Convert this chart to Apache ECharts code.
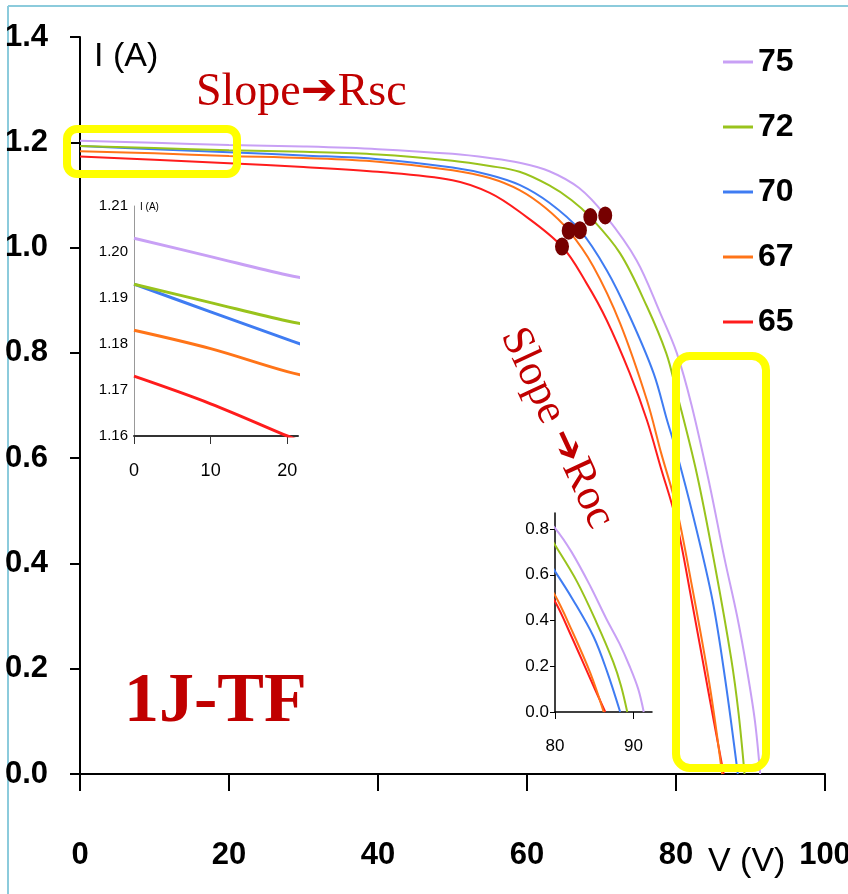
<!DOCTYPE html>
<html>
<head>
<meta charset="utf-8">
<script src="https://cdn.jsdelivr.net/npm/echarts@6/dist/echarts.min.js"></script>
<style>
  html, body { margin: 0; padding: 0; background: #fff; }
  #container { width: 848px; height: 894px; }
</style>
</head>
<body>
<div id="container"></div>
<script>
let chart = echarts.init(document.getElementById('container'));

// temperatures shown in the legend
var names = ['75', '72', '70', '67', '65'];
var colors = ['#c8a0f5', '#99c31c', '#3f7cf2', '#ff7418', '#ff1c1c'];

// I-V curves, voltage (V) and current (A)
var v75 = [0, 10, 20, 30, 40, 50, 55, 59, 63, 67, 70.5, 74.7, 77.9, 80.1, 82.1, 84.5, 86.5, 88.2, 89.5, 90.6, 91.3];
var i75 = [1.203, 1.199, 1.195, 1.192, 1.187, 1.178, 1.170, 1.161, 1.145, 1.113, 1.061, 0.976, 0.875, 0.800, 0.700, 0.550, 0.410, 0.300, 0.200, 0.100, 0];
var v72 = [0, 10, 20, 30, 40, 50, 55, 59, 63, 66, 68.5, 72.5, 76.1, 78.7, 80, 82.8, 85.3, 87.4, 88.4, 89.2];
var i72 = [1.193, 1.189, 1.185, 1.182, 1.177, 1.165, 1.155, 1.144, 1.118, 1.090, 1.058, 0.989, 0.888, 0.799, 0.730, 0.570, 0.390, 0.220, 0.115, 0];
var v70 = [0, 10, 20, 30, 40, 50, 55, 59, 63, 67.1, 70.7, 73.8, 77, 78.8, 80, 82.3, 84.9, 86.6, 88.3];
var i70 = [1.193, 1.187, 1.181, 1.175, 1.168, 1.152, 1.138, 1.119, 1.085, 1.033, 0.957, 0.869, 0.761, 0.672, 0.615, 0.490, 0.330, 0.180, 0];
var v67 = [0, 10, 20, 30, 40, 50, 55, 59, 62.5, 65.6, 68.9, 72.5, 76.1, 78, 80, 82.1, 84.5, 86.2];
var i67 = [1.183, 1.179, 1.174, 1.170, 1.163, 1.147, 1.132, 1.109, 1.075, 1.032, 0.964, 0.856, 0.710, 0.610, 0.510, 0.360, 0.170, 0];
var v65 = [0, 10, 20, 30, 40, 50, 55, 59, 64.7, 68, 70.7, 73.8, 76.1, 78, 80, 82.1, 84.3, 86.4];
var i65 = [1.173, 1.167, 1.160, 1.153, 1.144, 1.128, 1.104, 1.068, 1.002, 0.932, 0.862, 0.761, 0.672, 0.580, 0.483, 0.330, 0.160, 0];

// max power points
var mppV = [64.7, 65.6, 67.1, 68.5, 70.5];
var mppI = [1.002, 1.032, 1.033, 1.058, 1.061];

// tick labels
var mainXTicks = [0, 20, 40, 60, 80, 100];
var inset1XTicks = [0, 10, 20];
var inset2XTicks = [80, 90];
var inset2YTicks = [0, 0.2, 0.4, 0.6, 0.8];

var curvesV = [v75, v72, v70, v67, v65];
var curvesI = [i75, i72, i70, i67, i65];

var sans = "'Liberation Sans',Arial,sans-serif";
var serif = "'Liberation Serif','DejaVu Serif',serif";

function zip(xs, ys) {
    return xs.map((x, k) => [x, ys[k]]);
}

let series = [];
names.forEach((name, k) => {
    let data = zip(curvesV[k], curvesI[k]);
    [0, 1, 2].forEach(g => {
        series.push({
            name: name,
            type: 'line',
            xAxisIndex: g,
            yAxisIndex: g,
            data: data,
            showSymbol: false,
            smooth: 0.35,
            animation: false,
            clip: true,
            color: colors[k],
            lineStyle: {width: g == 1 ? 3 : 2, color: colors[k]},
            z: 3 + (names.length - k),
        });
    });
});
series.push({
    name: 'mpp',
    type: 'scatter',
    xAxisIndex: 0,
    yAxisIndex: 0,
    data: zip(mppV, mppI),
    symbol: 'circle',
    symbolSize: [14, 18],
    itemStyle: {color: '#760000', opacity: 1},
    animation: false,
    z: 20,
});

var option = {
    backgroundColor: '#fff',
    legend: {
        data: names,
        orient: 'vertical',
        left: 718,
        top: 37,
        itemWidth: 30,
        itemHeight: 3,
        itemGap: 25,
        icon: 'rect',
        textStyle: {
            fontFamily: sans,
            fontWeight: 'bold',
            fontSize: 32,
            lineHeight: 40,
            color: '#000',
        },
    },
    grid: [
        {left: 80, right: 23, top: 37, bottom: 120, outerBoundsMode: 'none'},
        {left: 134, width: 164, top: 206, height: 230, outerBoundsMode: 'none'},
        {left: 555, width: 97, top: 513, height: 199, outerBoundsMode: 'none'},
    ],
    xAxis: [
        {
            gridIndex: 0, type: 'value', min: 0, max: 100, interval: 20,
            splitLine: {show: false},
            axisLine: {lineStyle: {color: '#000', width: 2}},
            axisTick: {length: 17, lineStyle: {color: '#000', width: 2}},
            axisLabel: {
                margin: 66, color: '#000', fontFamily: sans, fontWeight: 'bold', fontSize: 31,
                customValues: mainXTicks,
            },
        },
        {
            gridIndex: 1, type: 'value', min: 0, max: 21.4,
            splitLine: {show: false},
            axisLine: {lineStyle: {color: '#333', width: 2}},
            axisTick: {length: 8, customValues: inset1XTicks, lineStyle: {color: '#333'}},
            axisLabel: {
                margin: 26, color: '#000', fontFamily: sans, fontSize: 18,
                customValues: inset1XTicks,
            },
        },
        {
            gridIndex: 2, type: 'value', min: 80, max: 92.35,
            splitLine: {show: false},
            axisLine: {lineStyle: {color: '#000', width: 1.5}},
            axisTick: {length: 7, customValues: inset2XTicks, lineStyle: {color: '#000'}},
            axisLabel: {
                margin: 26, color: '#000', fontFamily: sans, fontSize: 17,
                customValues: inset2XTicks,
            },
        },
    ],
    yAxis: [
        {
            gridIndex: 0, type: 'value', min: 0, max: 1.4, interval: 0.2,
            splitLine: {show: false},
            axisLine: {show: true, lineStyle: {color: '#000', width: 2}},
            axisTick: {show: true, length: 10, lineStyle: {color: '#000', width: 2}},
            axisLabel: {
                margin: 32, color: '#000', fontFamily: sans, fontWeight: 'bold', fontSize: 31,
                formatter: value => value.toFixed(1),
            },
        },
        {
            gridIndex: 1, type: 'value', min: 1.16, max: 1.21, interval: 0.01,
            splitLine: {show: false},
            axisLine: {show: true, lineStyle: {color: '#999', width: 1}},
            axisTick: {show: false},
            axisLabel: {
                margin: 6, color: '#000', fontFamily: sans, fontSize: 15,
                formatter: value => value.toFixed(2),
            },
        },
        {
            gridIndex: 2, type: 'value', min: 0, max: 0.87,
            splitLine: {show: false},
            axisLine: {show: true, lineStyle: {color: '#000', width: 1.5}},
            axisTick: {show: true, length: 5, customValues: inset2YTicks, lineStyle: {color: '#000'}},
            axisLabel: {
                margin: 6, color: '#000', fontFamily: sans, fontSize: 17,
                customValues: inset2YTicks,
                formatter: value => value.toFixed(1),
            },
        },
    ],
    graphic: [
        // slide frame
        {type: 'line', shape: {x1: 8, y1: 6, x2: 8, y2: 894}, style: {stroke: '#8ccbdc', lineWidth: 2}},
        {type: 'line', shape: {x1: 8, y1: 6, x2: 848, y2: 6}, style: {stroke: '#8ccbdc', lineWidth: 2}},
        // highlight boxes
        {type: 'rect', z: 50, shape: {x: 67, y: 129, width: 170, height: 45, r: 10},
            style: {fill: 'none', stroke: '#ffff00', lineWidth: 8}},
        {type: 'rect', z: 50, shape: {x: 676, y: 356, width: 90, height: 412, r: 14},
            style: {fill: 'none', stroke: '#ffff00', lineWidth: 8}},
        // axis titles
        {type: 'text', x: 94, y: 40, z: 50,
            style: {text: 'I (A)', fontFamily: sans, fontSize: 34, fill: '#000'}},
        {type: 'text', x: 708, y: 845, z: 50,
            style: {text: 'V (V)', fontFamily: sans, fontSize: 34, fill: '#000'}},
        {type: 'text', x: 140, y: 202, z: 50,
            style: {text: 'I (A)', fontFamily: sans, fontSize: 10, fill: '#000'}},
        // annotations
        {type: 'text', x: 196, y: 70, z: 50,
            style: {
                text: '{a|Slope}{b|➔}{a|Rsc}',
                rich: {
                    a: {fontFamily: serif, fontSize: 46, fill: '#c00000'},
                    b: {fontFamily: 'DejaVu Sans', fontSize: 44, fill: '#c00000'},
                },
            }},
        {type: 'text', x: 557, y: 428, z: 50, rotation: -65 * Math.PI / 180,
            style: {
                text: '{a|Slope }{b|➔}{a|Roc}',
                align: 'center', verticalAlign: 'middle',
                rich: {
                    a: {fontFamily: serif, fontSize: 44, fill: '#c00000'},
                    b: {fontFamily: 'DejaVu Sans', fontSize: 40, fill: '#c00000'},
                },
            }},
        {type: 'text', x: 124, y: 668, z: 50,
            style: {text: '1J-TF', fontFamily: serif, fontWeight: 'bold', fontSize: 70, fill: '#c00000'}},
    ],
    series: series,
};

chart.setOption(option);
</script>
</body>
</html>
